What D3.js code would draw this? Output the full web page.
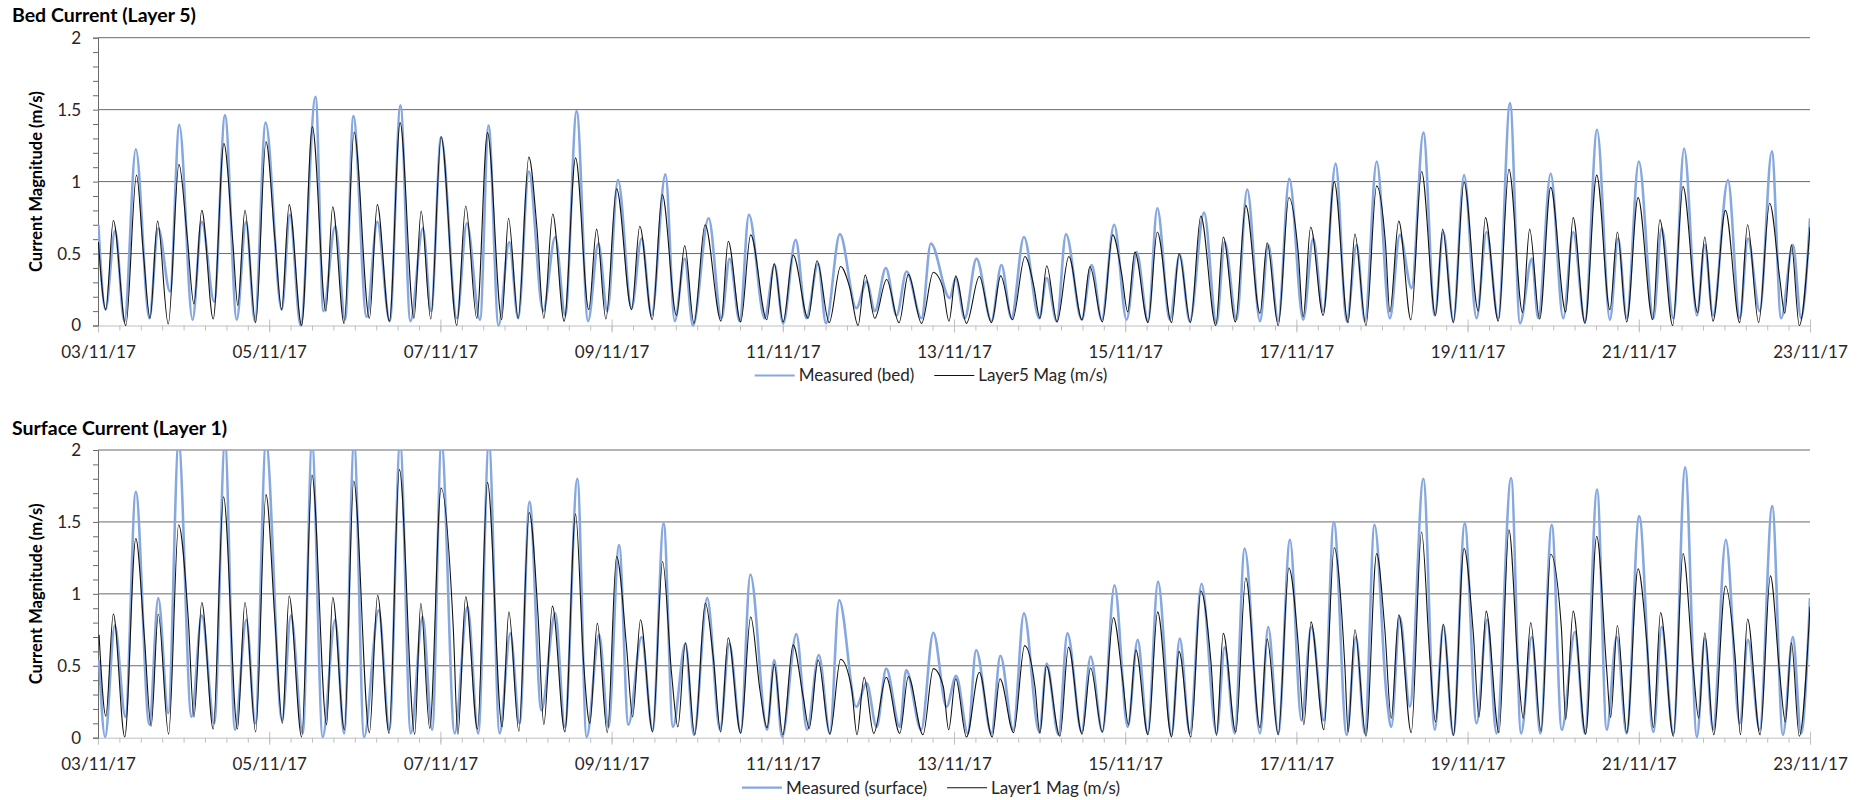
<!DOCTYPE html>
<html><head><meta charset="utf-8">
<script src="https://cdn.jsdelivr.net/npm/d3@7"></script>
<style>
body{margin:0;background:#fff;}
svg{display:block;font-family:Lato,"Open Sans",sans-serif;}
</style></head><body>
<svg id="chart" width="1868" height="800"></svg>
<script>
// ---------------- DATA (hours from 03/11/17 00:00, current magnitude m/s) ----------------
const bedMeasured = [[0.1,0.70],[2.1,0.11],[4.8,0.66],[7.4,0.03],[10.6,1.225],[14.4,0.05],[16.9,0.675],[20.2,0.235],[22.8,1.395],[26.5,0.04],[29.1,0.72],[32.6,0.165],[35.6,1.46],[38.9,0.04],[41.5,0.72],[44.0,0.03],[47.0,1.41],[51.5,0.11],[53.8,0.77],[56.8,0.0],[61.0,1.59],[63.2,0.10],[66.5,0.69],[69.3,0.04],[71.6,1.455],[75.3,0.06],[78.3,0.72],[81.8,0.03],[84.8,1.53],[87.6,0.03],[91.1,0.675],[93.4,0.10],[96.2,1.31],[100.6,0.05],[103.4,0.71],[107.1,0.04],[109.5,1.39],[112.3,0.0],[115.3,0.58],[117.8,0.05],[120.8,1.07],[124.8,0.10],[128.2,0.615],[131.0,0.07],[134.2,1.49],[137.4,0.03],[140.3,0.57],[142.8,0.10],[145.8,1.01],[149.6,0.12],[152.4,0.605],[155.2,0.07],[159.1,1.05],[161.7,0.03],[164.5,0.465],[166.8,0.0],[171.2,0.745],[174.8,0.05],[177.1,0.465],[179.9,0.03],[182.5,0.77],[186.9,0.05],[189.7,0.42],[192.1,0.015],[195.6,0.595],[198.6,0.05],[201.9,0.43],[204.1,0.015],[208.0,0.635],[212.6,0.12],[215.5,0.305],[217.8,0.10],[220.9,0.40],[223.9,0.07],[226.7,0.375],[230.9,0.05],[233.5,0.57],[238.8,0.19],[240.5,0.33],[243.0,0.05],[246.3,0.465],[250.5,0.03],[253.3,0.42],[256.1,0.05],[259.6,0.615],[263.9,0.05],[266.0,0.33],[268.8,0.03],[271.4,0.635],[275.8,0.04],[278.6,0.42],[281.4,0.04],[284.9,0.70],[288.4,0.04],[291.2,0.51],[294.4,0.03],[297.0,0.815],[300.5,0.04],[303.3,0.49],[306.1,0.03],[310.1,0.785],[313.6,0.015],[315.9,0.58],[319.2,0.04],[322.2,0.945],[325.8,0.03],[328.1,0.56],[330.9,0.03],[334.0,1.02],[337.9,0.04],[340.7,0.605],[343.5,0.10],[347.0,1.125],[350.1,0.03],[352.9,0.56],[355.2,0.03],[358.5,1.14],[362.2,0.05],[365.0,0.63],[368.3,0.26],[371.6,1.34],[374.8,0.07],[377.2,0.65],[380.0,0.03],[383.0,1.045],[386.5,0.05],[389.3,0.65],[392.6,0.05],[395.9,1.545],[398.7,0.015],[402.0,0.465],[403.8,0.05],[407.3,1.055],[410.8,0.05],[413.6,0.65],[416.9,0.03],[420.3,1.36],[423.9,0.04],[426.2,0.605],[428.6,0.05],[432.0,1.14],[436.1,0.05],[438.4,0.675],[441.7,0.05],[444.7,1.23],[448.3,0.07],[450.5,0.56],[452.8,0.07],[457.0,1.01],[460.3,0.05],[462.6,0.605],[465.9,0.10],[469.3,1.21],[471.9,0.05],[475.2,0.56],[477.5,0.05],[480.0,0.745]];

const bedModel = [[0.1,0.58],[2.2,0.11],[4.3,0.73],[7.8,0.0],[10.8,1.045],[12.7,0.51],[14.6,0.05],[16.7,0.725],[19.7,0.01],[22.7,1.12],[25.0,0.62],[26.9,0.15],[29.1,0.80],[32.3,0.045],[35.3,1.265],[37.8,0.58],[39.2,0.14],[41.2,0.80],[44.2,0.02],[47.1,1.277],[49.6,0.60],[51.5,0.11],[53.6,0.84],[57.1,0.0],[60.1,1.38],[63.9,0.10],[65.8,0.825],[69.0,0.015],[71.8,1.345],[76.1,0.05],[78.3,0.84],[81.7,0.03],[84.7,1.41],[88.6,0.05],[90.6,0.795],[93.3,0.045],[96.2,1.31],[100.6,0.0],[103.1,0.83],[106.2,0.05],[109.2,1.34],[113.2,0.04],[115.1,0.745],[117.8,0.05],[120.8,1.17],[123.0,0.70],[125.0,0.05],[127.5,0.775],[130.7,0.03],[133.9,1.165],[137.6,0.11],[139.8,0.67],[142.4,0.045],[145.4,0.95],[149.6,0.11],[151.9,0.69],[155.4,0.04],[158.2,0.91],[162.2,0.07],[164.5,0.555],[167.1,0.015],[170.2,0.70],[174.7,0.03],[176.7,0.585],[180.2,0.025],[183.0,0.63],[187.5,0.04],[189.6,0.43],[192.1,0.025],[194.9,0.49],[199.1,0.05],[201.6,0.45],[205.0,0.02],[208.2,0.41],[210.8,0.26],[213.1,0.0],[215.1,0.35],[217.8,0.05],[221.1,0.32],[224.6,0.02],[227.2,0.355],[230.9,0.015],[234.2,0.37],[236.8,0.27],[238.6,0.03],[240.5,0.345],[243.5,0.015],[247.1,0.34],[250.5,0.02],[253.1,0.345],[256.4,0.04],[259.9,0.48],[262.4,0.27],[264.1,0.05],[266.0,0.415],[268.9,0.025],[272.2,0.48],[275.9,0.04],[278.1,0.41],[281.6,0.025],[284.5,0.63],[287.0,0.36],[288.7,0.095],[290.7,0.51],[294.4,0.02],[297.0,0.65],[301.0,0.02],[303.1,0.50],[306.3,0.02],[309.2,0.76],[313.4,0.0],[315.5,0.615],[318.9,0.025],[321.8,0.835],[325.8,0.085],[327.8,0.575],[330.9,0.0],[333.9,0.89],[336.5,0.51],[337.9,0.06],[340.0,0.685],[343.5,0.07],[346.6,1.0],[350.5,0.02],[352.4,0.635],[355.5,0.0],[358.5,0.97],[361.0,0.56],[362.2,0.095],[364.7,0.725],[368.1,0.04],[371.1,1.07],[375.0,0.07],[377.0,0.67],[380.0,0.02],[383.0,0.995],[387.0,0.10],[389.0,0.75],[392.6,0.03],[395.6,1.085],[399.4,0.09],[401.4,0.67],[404.2,0.045],[407.3,0.96],[411.5,0.095],[413.6,0.75],[416.9,0.015],[420.2,1.045],[423.9,0.11],[426.0,0.65],[428.6,0.025],[431.8,0.89],[435.9,0.04],[437.9,0.735],[441.5,0.0],[444.4,0.965],[448.5,0.09],[450.5,0.615],[452.8,0.03],[456.3,0.80],[460.3,0.02],[462.5,0.70],[465.6,0.02],[468.7,0.85],[471.5,0.33],[472.9,0.085],[474.8,0.56],[477.0,0.0],[480.0,0.685]];

const surfaceMeasured = [[0.3,0.54],[2.0,0.005],[4.7,0.78],[7.7,0.145],[10.6,1.71],[14.4,0.09],[16.9,0.97],[19.7,0.17],[22.6,2.05],[26.2,0.145],[29.1,0.85],[32.6,0.10],[35.6,2.05],[38.4,0.055],[41.6,0.82],[44.1,0.10],[47.1,2.05],[51.6,0.12],[54.1,0.85],[57.4,0.03],[60.0,2.05],[63.0,0.005],[66.5,0.82],[69.0,0.03],[71.8,2.05],[74.6,0.005],[78.7,0.885],[81.7,0.055],[84.7,2.05],[87.7,0.03],[91.0,0.84],[93.7,0.055],[96.3,2.05],[100.0,0.03],[103.6,0.91],[106.6,0.03],[109.6,2.05],[112.6,0.03],[115.6,0.725],[118.2,0.10],[121.0,1.64],[124.3,0.19],[128.2,0.865],[130.9,0.075],[134.4,1.80],[137.0,0.005],[140.5,0.715],[143.1,0.075],[146.1,1.34],[148.7,0.09],[152.4,0.70],[155.5,0.055],[158.6,1.49],[161.2,0.075],[164.7,0.655],[167.1,0.02],[170.8,0.97],[174.4,0.055],[177.0,0.655],[180.2,0.04],[182.9,1.135],[187.6,0.055],[189.6,0.54],[191.8,0.005],[195.8,0.72],[198.8,0.055],[202.1,0.575],[205.2,0.03],[207.8,0.955],[212.6,0.215],[215.5,0.38],[218.3,0.075],[221.0,0.48],[224.8,0.075],[226.6,0.47],[230.8,0.055],[234.2,0.73],[237.9,0.215],[240.6,0.43],[243.9,0.03],[246.2,0.61],[250.5,0.03],[253.0,0.57],[256.6,0.055],[259.6,0.865],[263.9,0.04],[266.0,0.515],[269.3,0.02],[271.8,0.725],[275.8,0.04],[278.3,0.565],[281.6,0.04],[285.0,1.06],[288.7,0.075],[291.5,0.68],[294.3,0.03],[297.2,1.085],[301.0,0.02],[303.3,0.69],[306.1,0.03],[309.4,1.07],[313.6,0.03],[315.9,0.63],[318.7,0.03],[321.5,1.315],[325.8,0.03],[328.1,0.77],[330.9,0.03],[334.2,1.375],[337.4,0.12],[340.2,0.77],[343.7,0.12],[346.5,1.50],[350.1,0.02],[352.7,0.70],[355.2,0.03],[357.9,1.48],[361.3,0.285],[362.6,0.075],[365.0,0.84],[367.8,0.215],[371.6,1.80],[374.8,0.055],[377.2,0.78],[380.0,0.02],[383.2,1.49],[386.5,0.10],[389.5,0.82],[392.1,0.03],[396.2,1.805],[399.0,0.03],[402.0,0.70],[404.4,0.03],[407.6,1.48],[410.4,0.055],[414.1,0.735],[416.9,0.03],[420.3,1.725],[423.0,0.055],[425.8,0.70],[428.6,0.03],[432.1,1.54],[436.1,0.04],[438.4,0.77],[441.7,0.03],[445.0,1.88],[448.3,0.005],[450.5,0.69],[452.8,0.055],[456.4,1.375],[460.3,0.10],[462.6,0.68],[465.9,0.055],[469.4,1.61],[472.4,0.02],[475.2,0.70],[477.5,0.03],[480.0,0.97]];

const surfaceModel = [[0.3,0.715],[2.2,0.15],[4.3,0.86],[7.5,0.005],[10.6,1.385],[13.0,0.70],[14.9,0.08],[16.9,0.86],[19.8,0.025],[22.6,1.48],[25.3,0.83],[26.9,0.145],[29.1,0.94],[32.3,0.06],[35.2,1.675],[39.1,0.06],[41.2,0.94],[44.2,0.04],[47.1,1.69],[49.6,0.82],[51.7,0.10],[53.6,0.985],[57.1,0.005],[60.0,1.825],[64.1,0.09],[65.8,0.975],[69.1,0.055],[71.7,1.785],[76.1,0.035],[78.4,0.99],[81.6,0.03],[84.5,1.865],[88.8,0.025],[90.5,0.935],[93.0,0.065],[96.2,1.735],[99.6,0.77],[100.9,0.025],[103.1,0.98],[106.4,0.06],[109.2,1.775],[113.3,0.075],[115.2,0.875],[118.0,0.045],[120.9,1.565],[123.4,0.84],[125.0,0.09],[127.4,0.915],[130.9,0.04],[133.9,1.555],[136.1,0.54],[137.9,0.10],[140.0,0.795],[142.8,0.035],[145.4,1.26],[148.2,0.63],[149.9,0.145],[152.1,0.82],[155.5,0.04],[158.3,1.225],[160.8,0.45],[162.6,0.075],[164.7,0.66],[167.3,0.02],[170.3,0.935],[172.5,0.56],[174.6,0.04],[176.7,0.695],[180.2,0.03],[183.0,0.84],[185.6,0.33],[187.6,0.07],[189.6,0.51],[192.0,0.02],[194.9,0.645],[197.7,0.285],[199.4,0.065],[201.9,0.54],[205.2,0.025],[208.2,0.545],[211.3,0.34],[212.8,0.02],[214.8,0.42],[217.5,0.03],[221.0,0.42],[224.8,0.03],[227.2,0.425],[231.3,0.02],[234.2,0.48],[237.0,0.355],[238.5,0.055],[240.5,0.41],[243.5,0.005],[247.1,0.455],[250.7,0.005],[252.9,0.41],[256.7,0.035],[259.8,0.64],[262.7,0.355],[264.1,0.03],[265.9,0.50],[269.7,0.01],[272.1,0.63],[275.9,0.025],[278.3,0.485],[281.6,0.04],[284.7,0.835],[287.3,0.40],[288.9,0.09],[291.0,0.61],[294.4,0.02],[297.1,0.875],[301.0,0.005],[303.1,0.60],[306.4,0.005],[309.2,1.02],[312.0,0.54],[313.6,0.015],[315.5,0.725],[319.0,0.04],[321.8,1.11],[325.8,0.07],[327.8,0.685],[330.9,0.02],[333.9,1.18],[336.5,0.655],[338.1,0.09],[340.1,0.805],[343.7,0.055],[346.6,1.32],[349.6,0.49],[350.5,0.04],[352.4,0.75],[355.5,0.01],[358.5,1.28],[360.8,0.75],[362.6,0.135],[364.7,0.855],[368.2,0.035],[371.1,1.43],[373.4,0.56],[375.0,0.11],[377.2,0.79],[380.0,0.015],[383.0,1.315],[385.6,0.725],[387.2,0.145],[389.2,0.88],[392.8,0.035],[395.6,1.445],[398.2,0.47],[399.6,0.135],[401.7,0.80],[404.6,0.045],[407.3,1.275],[410.3,0.76],[411.5,0.125],[413.6,0.88],[417.1,0.025],[420.2,1.40],[423.0,0.47],[424.1,0.14],[426.0,0.78],[428.6,0.035],[431.8,1.175],[434.2,0.68],[436.1,0.07],[438.1,0.87],[441.7,0.01],[444.4,1.28],[447.3,0.47],[448.8,0.135],[450.5,0.73],[453.0,0.02],[456.3,1.055],[459.0,0.56],[460.5,0.02],[462.5,0.825],[466.0,0.02],[468.9,1.125],[471.5,0.445],[473.1,0.11],[474.8,0.66],[477.0,0.01],[480.0,0.91]];

const panelTitles = ["Bed Current (Layer 5)", "Surface Current (Layer 1)"];
const legendLabels = [["Measured (bed)", "Layer5 Mag (m/s)"], ["Measured (surface)", "Layer1 Mag (m/s)"]];
const yAxisTitle = "Current Magnitude (m/s)";
const yTickValues = [0, 0.5, 1, 1.5, 2];
const yTickLabels = ["0", "0.5", "1", "1.5", "2"];
const startDate = Date.UTC(2017, 10, 3);
const endDate = Date.UTC(2017, 10, 23);

// ---------------- LAYOUT ----------------
const X0 = 98, X1 = 1810;
const layout = [
  {top: 37.7, bottom: 325.5, titleY: 22},
  {top: 450, bottom: 737.7, titleY: 435}
];
const series = [[bedMeasured, bedModel], [surfaceMeasured, surfaceModel]];
const measColor = "#87a8df", modelColor = "#111111";

const svg = d3.select("#chart");
const x = d3.scaleUtc().domain([new Date(startDate), new Date(endDate)]).range([X0, X1]);
const toDate = h => new Date(startDate + h * 3600000);
const labelFmt = d3.utcFormat("%d/%m/%y");

layout.forEach((p, i) => {
  const y = d3.scaleLinear().domain([0, 2]).range([p.bottom, p.top]);
  const g = svg.append("g");

  // title
  g.append("text").attr("x", 12).attr("y", p.titleY)
    .attr("font-size", 19.5).attr("font-weight", "bold").attr("fill", "#000")
    .text(panelTitles[i]);

  // gridlines
  g.append("g").selectAll("line").data(yTickValues.filter(v => v > 0)).join("line")
    .attr("x1", X0).attr("x2", X1)
    .attr("y1", d => y(d)).attr("y2", d => y(d))
    .attr("stroke", "#6a6a6a").attr("stroke-width", 1);

  // x axis: minor ticks every 6 h
  const xMinor = g.append("g").attr("transform", `translate(0,${y(0)})`)
    .call(d3.axisBottom(x).ticks(d3.utcHour.every(6)).tickSize(5).tickFormat(""));
  xMinor.select(".domain").attr("stroke", "#bfbfbf");
  xMinor.selectAll(".tick line").attr("stroke", "#bfbfbf");

  // x axis: date labels every 2 days
  const xMajor = g.append("g").attr("transform", `translate(0,${y(0)})`)
    .call(d3.axisBottom(x).ticks(d3.utcDay.every(2)).tickSizeInner(7).tickSizeOuter(0)
      .tickPadding(13).tickFormat(labelFmt));
  xMajor.select(".domain").remove();
  xMajor.selectAll(".tick line").attr("y1", -6).attr("stroke", "#bfbfbf");
  xMajor.selectAll(".tick text").attr("font-size", 17).attr("fill", "#262626")
    .attr("font-family", "Lato, sans-serif");

  // y axis
  const yAxis = g.append("g").attr("transform", `translate(${X0},0)`)
    .call(d3.axisLeft(y).tickValues(d3.range(21).map(k => k / 10)).tickSize(5).tickPadding(12)
      .tickFormat(d => {
        const k = yTickValues.findIndex(v => Math.abs(v - d) < 1e-9);
        return k >= 0 ? yTickLabels[k] : "";
      }));
  yAxis.select(".domain").attr("stroke", "#6a6a6a");
  yAxis.selectAll(".tick line").attr("stroke", "#6a6a6a");
  yAxis.selectAll(".tick text").attr("font-size", 17).attr("fill", "#262626")
    .attr("font-family", "Lato, sans-serif");

  // y axis title
  g.append("text")
    .attr("transform", `translate(36,${(p.top + p.bottom) / 2}) rotate(-90)`)
    .attr("text-anchor", "middle").attr("dy", "0.35em")
    .attr("font-size", 16.5).attr("font-weight", "bold").attr("fill", "#000")
    .text(yAxisTitle);

  // clip
  const clipId = "plotclip" + i;
  svg.append("clipPath").attr("id", clipId).append("rect")
    .attr("x", X0).attr("y", p.top).attr("width", X1 - X0).attr("height", p.bottom - p.top + 2);

  const line = d3.line().x(d => x(toDate(d[0]))).y(d => y(d[1])).curve(d3.curveMonotoneX);
  g.append("path").datum(series[i][0]).attr("d", line)
    .attr("fill", "none").attr("stroke", measColor).attr("stroke-width", 2.6)
    .attr("stroke-linejoin", "round").attr("clip-path", `url(#${clipId})`);
  g.append("path").datum(series[i][1]).attr("d", line)
    .attr("fill", "none").attr("stroke", modelColor).attr("stroke-width", 1.1)
    .attr("stroke-linejoin", "round").attr("clip-path", `url(#${clipId})`);

  // legend
  const lg = g.append("g").attr("transform", `translate(0,${p.bottom + 50})`);
  const lineLen = 40, gapText = 4, gapItem = 20;
  const items = legendLabels[i].map((lab, k) => {
    const it = lg.append("g");
    it.append("line").attr("x1", 0).attr("x2", lineLen).attr("y1", 0).attr("y2", 0)
      .attr("stroke", k === 0 ? measColor : modelColor).attr("stroke-width", k === 0 ? 2.2 : 1.1);
    const t = it.append("text").attr("x", lineLen + gapText).attr("dy", "0.35em")
      .attr("font-size", 17).attr("fill", "#262626").text(lab);
    return {it, w: lineLen + gapText + t.node().getComputedTextLength()};
  });
  const total = d3.sum(items, d => d.w) + gapItem;
  let cx = 931 - total / 2;
  items.forEach(d => { d.it.attr("transform", `translate(${cx},0)`); cx += d.w + gapItem; });
});
</script>
</body></html>
